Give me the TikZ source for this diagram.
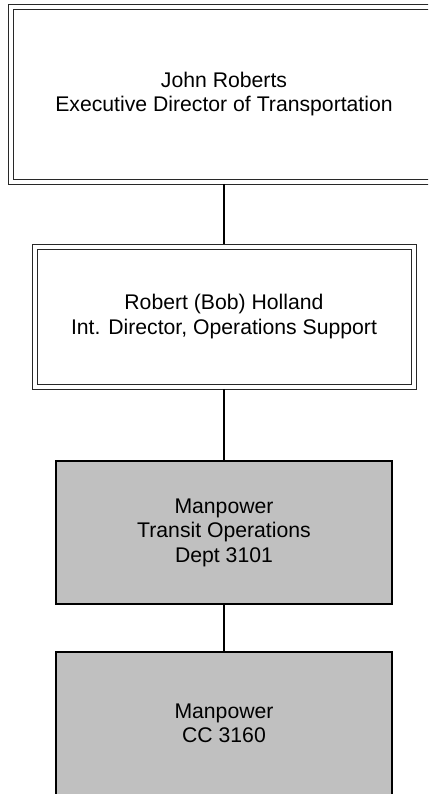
\documentclass[tikz,border=0pt]{standalone}
\usepackage{fontspec}
\setmainfont{Liberation Sans}
\usepackage{xcolor}
\usetikzlibrary{positioning}
\definecolor{orgline}{RGB}{40,40,40}
\definecolor{orggray}{RGB}{192,192,192}

\begin{document}
\begin{tikzpicture}[
  x=1pt, y=1pt,
  % Manager box - outer frame, white
  mgr/.style  = {draw=orgline, line width=0.8pt, outer sep=0pt,
                 fill=white, align=center,
                 font=\fontsize{21.2}{24.5}\selectfont},
  % Inner frame of a manager box
  frame/.style = {draw=orgline, line width=0.8pt},
  % Unit box - grey, single frame
  unit/.style = {draw=black, fill=orggray, line width=1.1pt, align=center,
                 minimum width=336pt, minimum height=143pt, outer sep=0pt,
                 font=\fontsize{21.2}{24.5}\selectfont},
  % Reporting line
  rep/.style  = {line width=1.2pt, color=black}
]

% Page frame (reference proportions); top box runs off the right edge
\useasboundingbox (0,0) rectangle (428,-794);
\clip (0,0) rectangle (428,-794);

% Boxes: single column centred at x=224
\node[mgr, minimum width=432pt, minimum height=180pt](JR) at (224,-94)
  {John Roberts\\Executive Director of Transportation};
\node[mgr, minimum width=384pt, minimum height=145pt](BH) at (224,-316.5)
  {Robert (Bob) Holland\\Int. Director, Operations Support};
\node[unit](TO) at (224,-532.5) {Manpower\\Transit Operations\\Dept 3101};
\node[unit](CC) at (224,-723.5) {Manpower\\CC 3160};

% Inner frames, 5pt inside the outer ones
\draw[frame] ([shift={(5,-5)}]JR.north west) rectangle ([shift={(-5,5)}]JR.south east);
\draw[frame] ([shift={(5,-5)}]BH.north west) rectangle ([shift={(-5,5)}]BH.south east);

% Reporting lines
\draw[rep](JR.south)--(BH.north);
\draw[rep](BH.south)--(TO.north);
\draw[rep](TO.south)--(CC.north);

\end{tikzpicture}
\end{document}
